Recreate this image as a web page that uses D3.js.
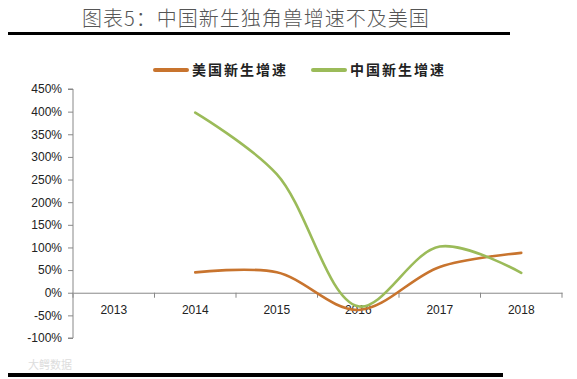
<!DOCTYPE html>
<html><head><meta charset="utf-8">
<script src="https://cdn.jsdelivr.net/npm/d3@7"></script>
<style>body{margin:0;background:#fff;}svg{display:block;}</style>
</head><body>
<script>
const title = "图表5：中国新生独角兽增速不及美国";
const years = ["2013","2014","2015","2016","2017","2018"];
const usGrowth = [null, 45, 45, -38, 57, 88];
const cnGrowth = [null, 398, 262, -30, 102, 44];
const seriesNames = ["美国新生增速", "中国新生增速"];
const seriesColors = ["#C8742E", "#9BBB59"];
const yTicks = [450,400,350,300,250,200,150,100,50,0,-50,-100];

const W = 577, H = 379;
const svg = d3.select("body").append("svg").attr("width", W).attr("height", H);
svg.append("rect").attr("width", W).attr("height", H).attr("fill", "#fff");

svg.append("text").attr("x", 82).attr("y", 26)
  .attr("font-family", "'Noto Sans CJK SC'").attr("font-size", 20).attr("font-weight", 300)
  .attr("fill", "#555").attr("letter-spacing", 1).text(title);
svg.append("rect").attr("x", 8).attr("y", 32).attr("width", 502).attr("height", 3).attr("fill", "#000");
svg.append("rect").attr("x", 8).attr("y", 373).attr("width", 495).attr("height", 4).attr("fill", "#000");

const x = d3.scaleBand().domain(years).range([73, 562]);
const y = d3.scaleLinear().domain([-100, 450]).range([338, 89]);

const yAxis = svg.append("g").attr("transform", "translate(73,0)")
  .call(d3.axisLeft(y).tickValues(yTicks).tickSize(5).tickPadding(6).tickFormat(d => d + "%"));
yAxis.select(".domain").attr("stroke", "#888").attr("d", `M-5,${y(450)}H0V${y(-100)}H-5`);
yAxis.selectAll(".tick line").attr("stroke", "#888");
yAxis.selectAll("text").attr("font-family", "'Liberation Sans', Arial").attr("font-size", 12).attr("fill", "#222");

const xAxis = svg.append("g").attr("transform", `translate(0,${y(0)})`)
  .call(d3.axisBottom(x).tickSize(0).tickPadding(13));
xAxis.select(".domain").attr("stroke", "#888");
xAxis.selectAll("text").attr("font-family", "'Liberation Sans', Arial").attr("font-size", 12).attr("fill", "#222");
xAxis.selectAll(".bt").data(years.concat(["end"])).enter().append("line")
  .attr("x1", (d,i) => 73 + i * x.step()).attr("x2", (d,i) => 73 + i * x.step())
  .attr("y1", 0).attr("y2", 5).attr("stroke", "#888");

const line = d3.line()
  .defined(d => d.v !== null)
  .x(d => x(d.year) + x.bandwidth() / 2)
  .y(d => y(d.v))
  .curve(d3.curveCatmullRom.alpha(0.5));

[usGrowth, cnGrowth].forEach((vals, i) => {
  const data = years.map((yr, j) => ({year: yr, v: vals[j]})).filter(d => d.v !== null);
  svg.append("path").datum(data).attr("d", line).attr("fill", "none")
    .attr("stroke", seriesColors[i]).attr("stroke-width", 2.6).attr("stroke-linecap", "round");
});

const legX = [155, 313];
seriesNames.forEach((n, i) => {
  svg.append("line").attr("x1", legX[i]).attr("x2", legX[i] + 32).attr("y1", 70).attr("y2", 70)
    .attr("stroke", seriesColors[i]).attr("stroke-width", 4).attr("stroke-linecap", "round");
  svg.append("text").attr("x", legX[i] + 37).attr("y", 75)
    .attr("font-family", "'Noto Sans CJK SC'").attr("font-size", 14).attr("font-weight", 700)
    .attr("fill", "#222").attr("letter-spacing", 2).text(n);
});

svg.append("text").attr("x", 28).attr("y", 369).attr("font-family", "'Noto Sans CJK SC'")
  .attr("font-size", 11).attr("fill", "#ddd").text("大鳄数据");
</script>
</body></html>
